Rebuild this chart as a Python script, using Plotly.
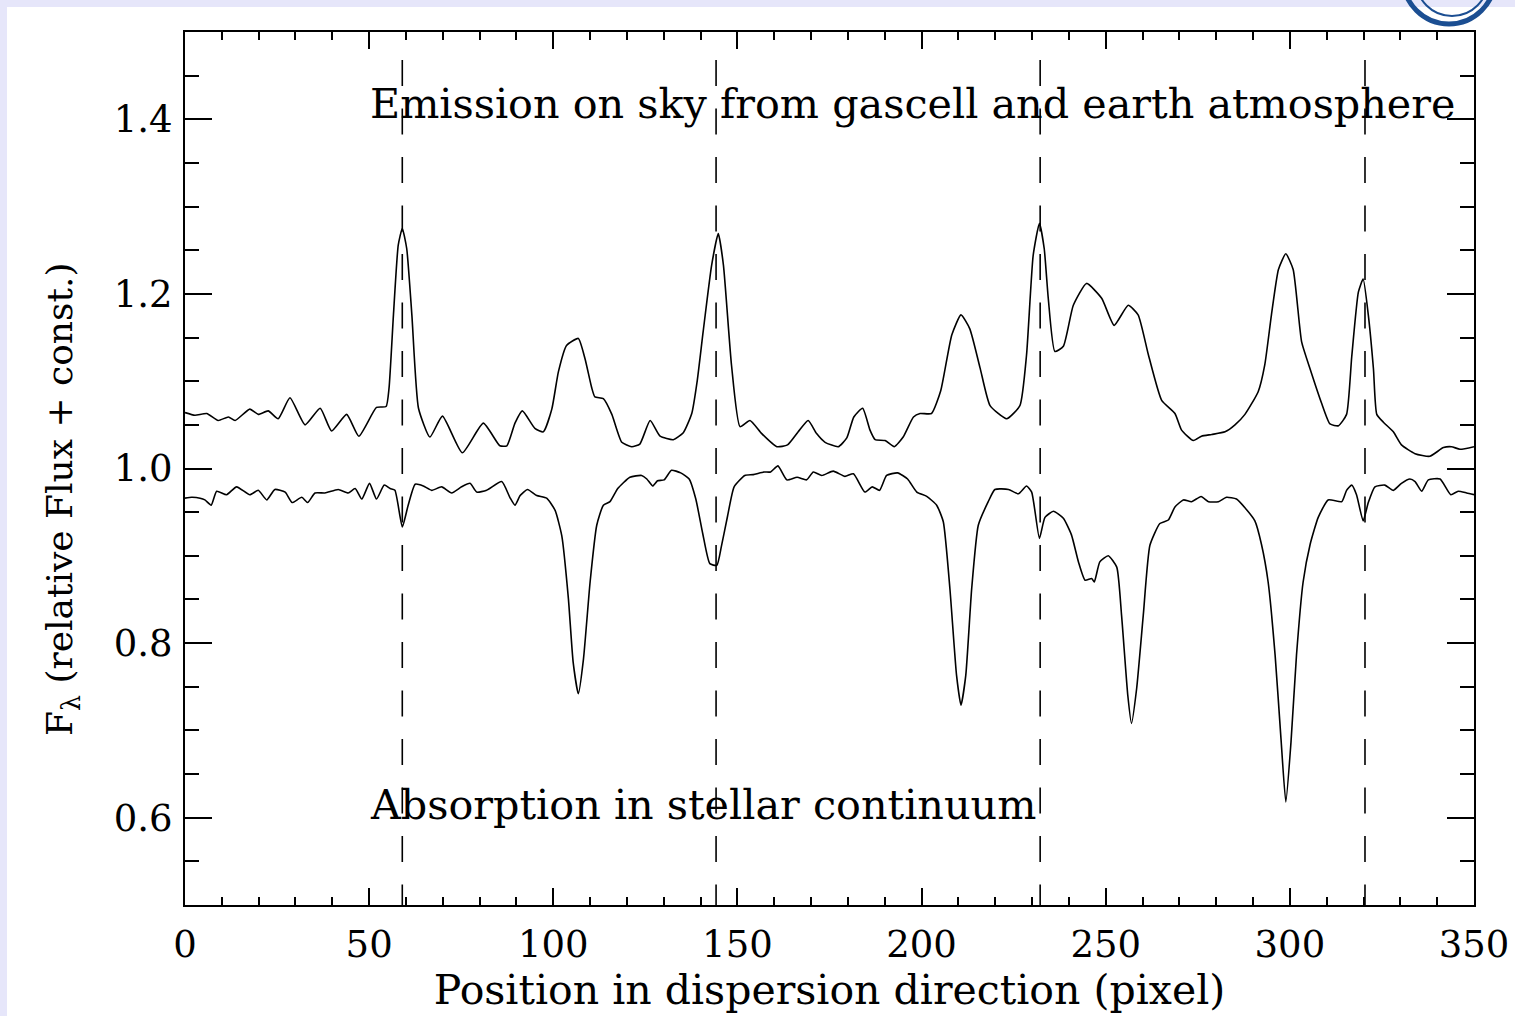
import plotly.graph_objects as go

# ---------------- data ----------------
emis_x = [0, 2.7, 5.9, 9.0, 11.8, 13.6, 17.6, 19.9, 22.6, 25.3, 28.5, 32.6, 36.7, 39.8, 43.9, 47.2,
          52.0, 54.6, 55.4, 56.6, 57.9, 59.0, 60.2, 61.6, 63.4, 66.5, 69.9, 75.3, 81.0, 85.5, 87.4,
          89.6, 91.6, 95.0, 97.3, 99.6, 101.4, 103.6, 106.8, 108.6, 110.4, 111.3, 113.6, 115.9,
          118.6, 121.3, 123.5, 126.3, 129.0, 132.6, 135.3, 137.6, 139.1, 140.7, 143.0, 144.8,
          146.2, 148.4, 150.7, 153.4, 156.6, 160.7, 163.6, 166.5, 169.2, 171.5, 173.8, 177.4,
          179.7, 181.6, 184.0, 186.0, 187.4, 190.1, 192.6, 195.0, 197.8, 199.6, 202.7, 205.2,
          208.2, 210.7, 213.1, 215.9, 218.6, 223.1, 226.7, 228.5, 230.3, 232.0, 233.3, 234.4,
          236.2, 238.5, 241.2, 244.8, 248.9, 252.3, 256.1, 258.8, 261.6, 265.2, 268.8, 270.6,
          273.8, 276.0, 278.8, 282.4, 285.1, 287.8, 291.4, 293.2, 295.0, 296.9, 298.9, 300.9,
          303.2, 305.5, 308.6, 310.9, 313.2, 315.4, 316.8, 318.6, 319.9, 321.3, 322.7, 323.6,
          325.4, 328.1, 330.3, 334.0, 338.0, 341.7, 343.9, 346.2, 350]
emis_y = [1.064, 1.061, 1.063, 1.055, 1.059, 1.055, 1.068, 1.062, 1.066, 1.057, 1.081, 1.050, 1.069,
          1.043, 1.062, 1.037, 1.070, 1.071, 1.092, 1.176, 1.256, 1.275, 1.252, 1.176, 1.069, 1.036,
          1.060, 1.018, 1.052, 1.026, 1.026, 1.052, 1.066, 1.046, 1.042, 1.068, 1.111, 1.141, 1.149,
          1.126, 1.093, 1.082, 1.080, 1.062, 1.030, 1.025, 1.028, 1.055, 1.037, 1.033, 1.041, 1.063,
          1.101, 1.157, 1.233, 1.269, 1.233, 1.118, 1.048, 1.055, 1.040, 1.025, 1.027, 1.042, 1.055,
          1.040, 1.030, 1.025, 1.035, 1.059, 1.069, 1.044, 1.033, 1.032, 1.025, 1.036, 1.059, 1.063,
          1.063, 1.089, 1.153, 1.176, 1.160, 1.115, 1.072, 1.057, 1.072, 1.130, 1.244, 1.281, 1.252,
          1.195, 1.134, 1.140, 1.187, 1.212, 1.195, 1.164, 1.187, 1.176, 1.130, 1.078, 1.063, 1.044,
          1.032, 1.037, 1.039, 1.042, 1.050, 1.062, 1.088, 1.119, 1.176, 1.228, 1.246, 1.228, 1.145,
          1.114, 1.075, 1.051, 1.049, 1.062, 1.128, 1.202, 1.217, 1.176, 1.114, 1.062, 1.053, 1.042,
          1.027, 1.017, 1.014, 1.024, 1.025, 1.022, 1.025]

abs_x = [0, 1.8, 4.1, 5.4, 7.1, 8.6, 11.3, 14.0, 17.6, 19.9, 22.2, 24.4, 27.2, 29.1, 31.7, 33.3,
         35.3, 38.0, 41.6, 44.3, 46.2, 48.0, 50.1, 52.0, 54.1, 55.7, 57.0, 59.0, 60.6, 62.5, 64.7,
         67.0, 69.7, 72.4, 75.1, 77.4, 79.2, 81.9, 86.0, 88.2, 89.6, 91.0, 93.0, 95.5, 98.2, 100.5,
         102.3, 104.1, 105.4, 106.8, 108.2, 110.0, 111.8, 113.6, 115.4, 117.5, 120.8, 124.0, 125.4,
         127.0, 128.3, 130.1, 132.1, 134.6, 136.9, 138.7, 140.6, 142.5, 144.4, 145.7, 147.3, 149.1,
         152.0, 154.3, 157.2, 159.0, 161.0, 163.4, 166.2, 168.8, 170.6, 172.9, 176.0, 179.2, 181.5,
         184.6, 186.6, 188.6, 190.5, 193.5, 196.2, 198.7, 201.4, 204.1, 205.9, 207.7, 209.5, 210.7,
         212.0, 213.6, 215.4, 218.1, 219.9, 223.6, 226.3, 228.5, 229.9, 232.0, 233.5, 235.8, 238.5,
         240.7, 242.6, 244.4, 246.2, 246.9, 248.4, 250.7, 253.0, 254.3, 256.0, 257.0, 258.4, 260.2,
         262.0, 264.7, 267.0, 268.8, 271.1, 273.3, 275.9, 277.9, 280.6, 282.8, 285.5, 287.8, 290.5,
         292.3, 294.1, 296.0, 297.6, 298.9, 300.3, 301.8, 303.6, 305.5, 307.7, 310.4, 314.1, 315.4,
         316.8, 318.1, 319.9, 321.3, 323.1, 325.8, 328.1, 330.3, 332.6, 334.0, 335.8, 337.6, 340.8,
         343.7, 345.7, 348.0, 350]
abs_y = [0.966, 0.967, 0.966, 0.964, 0.958, 0.974, 0.970, 0.979, 0.970, 0.975, 0.964, 0.976, 0.973,
         0.961, 0.967, 0.961, 0.972, 0.972, 0.976, 0.972, 0.977, 0.965, 0.983, 0.965, 0.981, 0.977,
         0.975, 0.933, 0.958, 0.982, 0.980, 0.975, 0.979, 0.972, 0.979, 0.983, 0.973, 0.975, 0.985,
         0.967, 0.958, 0.969, 0.976, 0.969, 0.966, 0.952, 0.923, 0.851, 0.778, 0.742, 0.782, 0.870,
         0.935, 0.958, 0.962, 0.977, 0.990, 0.992, 0.988, 0.980, 0.986, 0.987, 0.998, 0.995, 0.988,
         0.965, 0.925, 0.891, 0.889, 0.912, 0.945, 0.979, 0.992, 0.993, 0.996, 0.996, 1.003, 0.987,
         0.990, 0.987, 0.996, 0.992, 0.997, 0.991, 0.994, 0.973, 0.979, 0.975, 0.992, 0.995, 0.988,
         0.973, 0.968, 0.958, 0.939, 0.862, 0.763, 0.729, 0.763, 0.862, 0.935, 0.962, 0.976, 0.976,
         0.971, 0.980, 0.973, 0.920, 0.944, 0.951, 0.943, 0.924, 0.893, 0.872, 0.874, 0.870, 0.893,
         0.900, 0.887, 0.832, 0.740, 0.708, 0.748, 0.832, 0.912, 0.937, 0.941, 0.956, 0.964, 0.962,
         0.968, 0.962, 0.962, 0.967, 0.965, 0.955, 0.940, 0.913, 0.870, 0.786, 0.690, 0.618, 0.686,
         0.786, 0.870, 0.913, 0.944, 0.964, 0.962, 0.975, 0.981, 0.970, 0.940, 0.961, 0.979, 0.981,
         0.975, 0.983, 0.988, 0.985, 0.974, 0.987, 0.988, 0.970, 0.974, 0.972, 0.970]

line_positions = [59, 144.2, 232.2, 320.4]
line_top = 1.468
line_bottom = 0.5

x_ticks = [0, 50, 100, 150, 200, 250, 300, 350]
y_ticks = [0.6, 0.8, 1.0, 1.2, 1.4]
y_tick_labels = ["0.6", "0.8", "1.0", "1.2", "1.4"]

label_emission = "Emission on sky from gascell and earth atmosphere"
label_absorption = "Absorption in stellar continuum"
label_pos_x = 49.7
label_emission_y = 1.4175
label_absorption_y = 0.615

x_title = "Position in dispersion direction (pixel)"
y_title = "F<sub>λ</sub> (relative Flux + const.)"

# ---------------- figure ----------------
FONT = "DejaVu Serif"
fig = go.Figure()

fig.add_trace(go.Scatter(x=emis_x, y=emis_y, mode="lines",
                         line=dict(color="black", width=1.6, shape="spline", smoothing=0.5),
                         showlegend=False, hoverinfo="skip"))
fig.add_trace(go.Scatter(x=abs_x, y=abs_y, mode="lines",
                         line=dict(color="black", width=1.6, shape="spline", smoothing=0.5),
                         showlegend=False, hoverinfo="skip"))

dx, dy = [], []
for p in line_positions:
    dx += [p, p, None]
    dy += [line_top, line_bottom, None]
fig.add_trace(go.Scatter(x=dx, y=dy, mode="lines",
                         line=dict(color="black", width=1.6, dash="26px,22.5px"),
                         showlegend=False, hoverinfo="skip"))

fig.add_annotation(x=label_pos_x, y=label_emission_y, xref="x", yref="y",
                   text=label_emission, showarrow=False, xanchor="left", yanchor="middle",
                   font=dict(family=FONT, size=41.3, color="black"))
fig.add_annotation(x=label_pos_x, y=label_absorption_y, xref="x", yref="y",
                   text=label_absorption, showarrow=False, xanchor="left", yanchor="middle",
                   font=dict(family=FONT, size=41.3, color="black"))

# page decoration: lavender border strip and logo fragment (paper coordinates)
L, R, T, B = 185, 1474, 32, 905
def px(v): return (v - L) / (R - L)
def py(v): return (B - v) / (B - T)

# y-axis title placed as rotated annotation (centred below the plot middle as in the reference)
fig.add_annotation(x=px(62), y=py(500), xref="paper", yref="paper",
                   text=y_title, showarrow=False, textangle=-90,
                   xanchor="center", yanchor="middle",
                   font=dict(family=FONT, size=36, color="black"))

fig.add_shape(type="rect", xref="paper", yref="paper", layer="below",
              x0=px(7), x1=px(1520), y0=py(1020), y1=py(7),
              fillcolor="white", line=dict(width=0))
fig.add_shape(type="circle", xref="paper", yref="paper",
              x0=px(1403), x1=px(1495), y0=py(24), y1=py(-68),
              line=dict(color="#1b4e92", width=5))
fig.add_shape(type="circle", xref="paper", yref="paper",
              x0=px(1416), x1=px(1488), y0=py(16), y1=py(-56),
              line=dict(color="#1b4e92", width=2))

axis_common = dict(
    ticks="inside", tickwidth=2, tickcolor="black",
    showline=True, linecolor="black", linewidth=2, mirror="ticks",
    showgrid=False, zeroline=False,
    tickfont=dict(family=FONT, size=37, color="black"),
)

fig.update_xaxes(range=[0, 350], tickvals=x_ticks, ticklen=17,
                 minor=dict(dtick=10, tick0=0, ticklen=8, tickwidth=2, tickcolor="black",
                            ticks="inside", showgrid=False),
                 ticklabelstandoff=6,
                 title=dict(text=x_title,
                            font=dict(family=FONT, size=41, color="black"), standoff=10),
                 **axis_common)
fig.update_yaxes(range=[0.5, 1.5], tickvals=y_ticks, ticktext=y_tick_labels, ticklen=27,
                 minor=dict(dtick=0.05, tick0=0.5, ticklen=14, tickwidth=2, tickcolor="black",
                            ticks="inside", showgrid=False),
                 ticklabelstandoff=3,
                 **axis_common)

fig.update_layout(
    width=1515, height=1016,
    margin=dict(l=L, r=1515 - R, t=T, b=1016 - B, autoexpand=False),
    paper_bgcolor="#E6E6FA", plot_bgcolor="white",
    font=dict(family=FONT, color="black"),
)

fig.write_html("out.html")
